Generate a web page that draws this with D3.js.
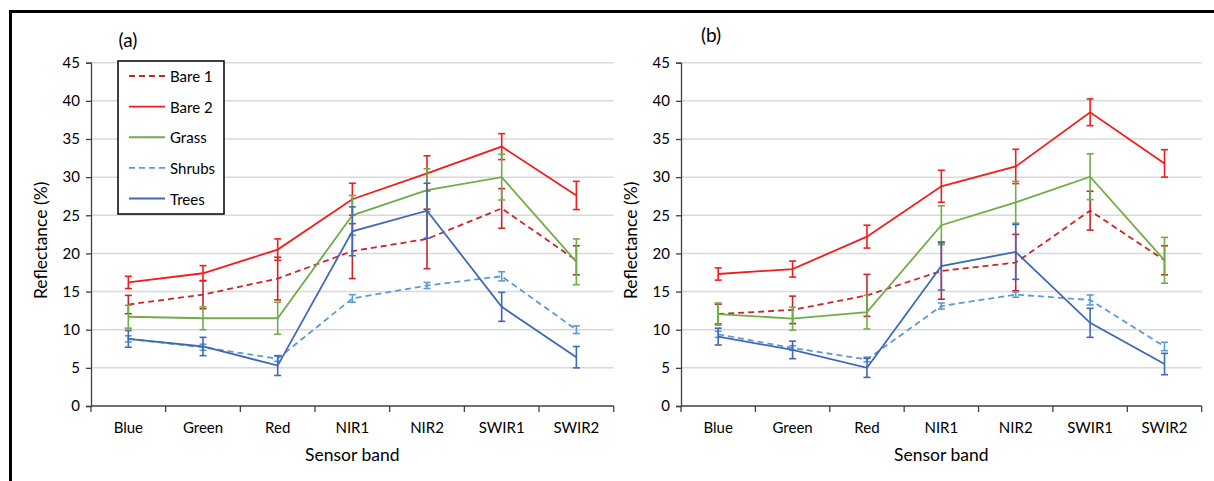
<!DOCTYPE html>
<html>
<head>
<meta charset="utf-8">
<script src="https://cdn.jsdelivr.net/npm/d3@7"></script>
<style>
  html, body { margin: 0; padding: 0; background: #fff; }
  svg { display: block; font-family: Lato, "Open Sans", sans-serif; }
</style>
</head>
<body>
<svg id="chart" width="1214" height="481"></svg>
<script>
// Sensor bands on the x axis
const categories = ["Blue", "Green", "Red", "NIR1", "NIR2", "SWIR1", "SWIR2"];
const yTicks = [0, 5, 10, 15, 20, 25, 30, 35, 40, 45];
const seriesNames = ["Bare 1", "Bare 2", "Grass", "Shrubs", "Trees"];

// Panel (a): mean reflectance (%) and error (±) per band
const bare1A  = [13.3, 14.6, 16.7, 20.3, 21.9, 25.9, 19.1];
const bare1ErrA = [1.2, 1.85, 2.8, 3.6, 3.9, 2.6, 1.9];
const bare2A  = [16.2, 17.4, 20.5, 27.1, 30.5, 34.0, 27.6];
const bare2ErrA = [0.8, 1.0, 1.4, 2.1, 2.3, 1.7, 1.85];
const grassA  = [11.7, 11.5, 11.5, 25.0, 28.3, 30.0, 18.9];
const grassErrA = [1.5, 1.5, 2.1, 2.6, 2.8, 3.0, 3.0];
const shrubsA = [8.8, 7.7, 6.2, 14.1, 15.8, 17.0, 10.0];
const shrubsErrA = [0.4, 0.4, 0.35, 0.5, 0.4, 0.6, 0.5];
const treesA  = [8.8, 7.8, 5.3, 22.9, 25.6, 13.0, 6.4];
const treesErrA = [1.1, 1.2, 1.3, 3.2, 3.6, 1.9, 1.4];

// Panel (b)
const bare1B  = [12.05, 12.6, 14.5, 17.7, 18.8, 25.6, 19.1];
const bare1ErrB = [1.3, 1.8, 2.75, 3.7, 3.7, 2.55, 1.9];
const bare2B  = [17.3, 17.95, 22.2, 28.8, 31.4, 38.5, 31.8];
const bare2ErrB = [0.8, 1.05, 1.5, 2.1, 2.25, 1.75, 1.8];
const grassB  = [12.05, 11.45, 12.3, 23.7, 26.7, 30.05, 19.1];
const grassErrB = [1.45, 1.5, 2.2, 2.55, 2.75, 3.0, 3.0];
const shrubsB = [9.4, 7.6, 6.1, 13.1, 14.6, 13.9, 7.8];
const shrubsErrB = [0.4, 0.3, 0.3, 0.4, 0.35, 0.65, 0.55];
const treesB  = [9.1, 7.35, 5.0, 18.35, 20.2, 10.9, 5.5];
const treesErrB = [1.1, 1.15, 1.25, 3.15, 3.6, 1.9, 1.4];

const styles = {
  "Bare 1": { color: "#C9262B", dash: "6,4" },
  "Bare 2": { color: "#F21D1D", dash: null },
  "Grass":  { color: "#70AD47", dash: null },
  "Shrubs": { color: "#5B9BD5", dash: "6,4" },
  "Trees":  { color: "#4068B8", dash: null }
};

const svg = d3.select("#chart");

// Outer frame (only the top and left edges fall inside the view)
svg.append("rect")
  .attr("x", 10.5).attr("y", 11.5)
  .attr("width", 1400).attr("height", 800)
  .attr("fill", "none").attr("stroke", "#000").attr("stroke-width", 3);

function drawPanel(opts) {
  const { x0, x1, label, labelX, labelY, data, legend } = opts;
  const yTop = 62.7, yBottom = 406;
  const g = svg.append("g");

  const x = d3.scaleBand().domain(categories).range([x0, x1]).padding(0);
  const y = d3.scaleLinear().domain([0, 45]).range([yBottom, yTop]);

  // Gridlines
  g.append("g").selectAll("line").data(yTicks.filter(t => t > 0)).join("line")
    .attr("x1", x0).attr("x2", x1)
    .attr("y1", d => y(d)).attr("y2", d => y(d))
    .attr("stroke", "#D9D9D9").attr("stroke-width", 1.5);

  // Y axis
  const yAxis = d3.axisLeft(y).tickValues(yTicks).tickSize(5).tickPadding(6);
  const ya = g.append("g").attr("transform", `translate(${x0},0)`).call(yAxis);
  ya.select(".domain").attr("stroke", "#404040").attr("stroke-width", 1.3);
  ya.selectAll(".tick line").attr("stroke", "#404040").attr("stroke-width", 1.3);
  ya.selectAll(".tick text").attr("font-size", 15).attr("fill", "#000")
    .attr("font-family", "Lato, 'Open Sans', sans-serif");

  // X axis: ticks sit on the band boundaries, labels at band centres
  const xa = g.append("g").attr("transform", `translate(0,${yBottom})`);
  xa.append("line").attr("x1", x0).attr("x2", x1).attr("y1", 0).attr("y2", 0)
    .attr("stroke", "#404040").attr("stroke-width", 1.3);
  const boundaries = categories.map(c => x(c)).concat([x1]);
  xa.selectAll("line.tick").data(boundaries).join("line").attr("class", "tick")
    .attr("x1", d => d).attr("x2", d => d).attr("y1", 0).attr("y2", 6)
    .attr("stroke", "#404040").attr("stroke-width", 1.3);
  xa.selectAll("text").data(categories).join("text")
    .attr("x", d => x(d) + x.bandwidth() / 2).attr("y", 27)
    .attr("text-anchor", "middle").attr("font-size", 15).attr("fill", "#000")
    .text(d => d);

  // Axis titles
  g.append("text")
    .attr("transform", `translate(${x0 - 48},${(yTop + yBottom) / 2 + 6}) rotate(-90)`)
    .attr("text-anchor", "middle").attr("dominant-baseline", "middle")
    .attr("font-size", 17.5).attr("fill", "#000")
    .text("Reflectance (%)");
  g.append("text")
    .attr("x", (x0 + x1) / 2).attr("y", 461)
    .attr("text-anchor", "middle").attr("font-size", 17.5).attr("fill", "#000")
    .text("Sensor band");

  // Panel label
  g.append("text").attr("x", labelX).attr("y", labelY)
    .attr("text-anchor", "middle").attr("font-size", 19).attr("fill", "#000")
    .text(label);

  const cx = c => x(c) + x.bandwidth() / 2;
  const line = d3.line().x(d => cx(d.cat)).y(d => y(d.v));

  data.forEach(s => {
    const st = styles[s.name];
    const pts = categories.map((c, i) => ({ cat: c, v: s.values[i], e: s.err[i] }));
    const sg = g.append("g");
    // Error bars
    const eb = sg.selectAll("g.err").data(pts).join("g").attr("class", "err")
      .attr("stroke", st.color).attr("stroke-width", 1.6);
    eb.append("line")
      .attr("x1", d => cx(d.cat)).attr("x2", d => cx(d.cat))
      .attr("y1", d => y(d.v + d.e)).attr("y2", d => y(d.v - d.e));
    eb.append("line")
      .attr("x1", d => cx(d.cat) - 3.5).attr("x2", d => cx(d.cat) + 3.5)
      .attr("y1", d => y(d.v + d.e)).attr("y2", d => y(d.v + d.e));
    eb.append("line")
      .attr("x1", d => cx(d.cat) - 3.5).attr("x2", d => cx(d.cat) + 3.5)
      .attr("y1", d => y(d.v - d.e)).attr("y2", d => y(d.v - d.e));
    // Series line
    sg.append("path").datum(pts).attr("d", line)
      .attr("fill", "none").attr("stroke", st.color).attr("stroke-width", 1.8)
      .attr("stroke-dasharray", st.dash);
  });

  if (legend) {
    const lg = g.append("g");
    lg.append("rect").attr("x", 118).attr("y", 61)
      .attr("width", 106).attr("height", 153)
      .attr("fill", "#fff").attr("stroke", "#000").attr("stroke-width", 1.5);
    const ly = d3.scalePoint().domain(seriesNames).range([76, 198.5]);
    seriesNames.forEach(n => {
      const st = styles[n];
      lg.append("line").attr("x1", 129).attr("x2", 165)
        .attr("y1", ly(n)).attr("y2", ly(n))
        .attr("stroke", st.color).attr("stroke-width", 1.8)
        .attr("stroke-dasharray", st.dash);
      lg.append("text").attr("x", 170).attr("y", ly(n))
        .attr("dominant-baseline", "central").attr("font-size", 15).attr("fill", "#000")
        .text(n);
    });
  }
}

drawPanel({
  x0: 91, x1: 613.7, label: "(a)", labelX: 128, labelY: 47, legend: true,
  data: [
    { name: "Bare 1", values: bare1A, err: bare1ErrA },
    { name: "Bare 2", values: bare2A, err: bare2ErrA },
    { name: "Grass", values: grassA, err: grassErrA },
    { name: "Shrubs", values: shrubsA, err: shrubsErrA },
    { name: "Trees", values: treesA, err: treesErrA }
  ]
});

drawPanel({
  x0: 681, x1: 1201.7, label: "(b)", labelX: 711, labelY: 42, legend: false,
  data: [
    { name: "Bare 1", values: bare1B, err: bare1ErrB },
    { name: "Bare 2", values: bare2B, err: bare2ErrB },
    { name: "Grass", values: grassB, err: grassErrB },
    { name: "Shrubs", values: shrubsB, err: shrubsErrB },
    { name: "Trees", values: treesB, err: treesErrB }
  ]
});
</script>
</body>
</html>
